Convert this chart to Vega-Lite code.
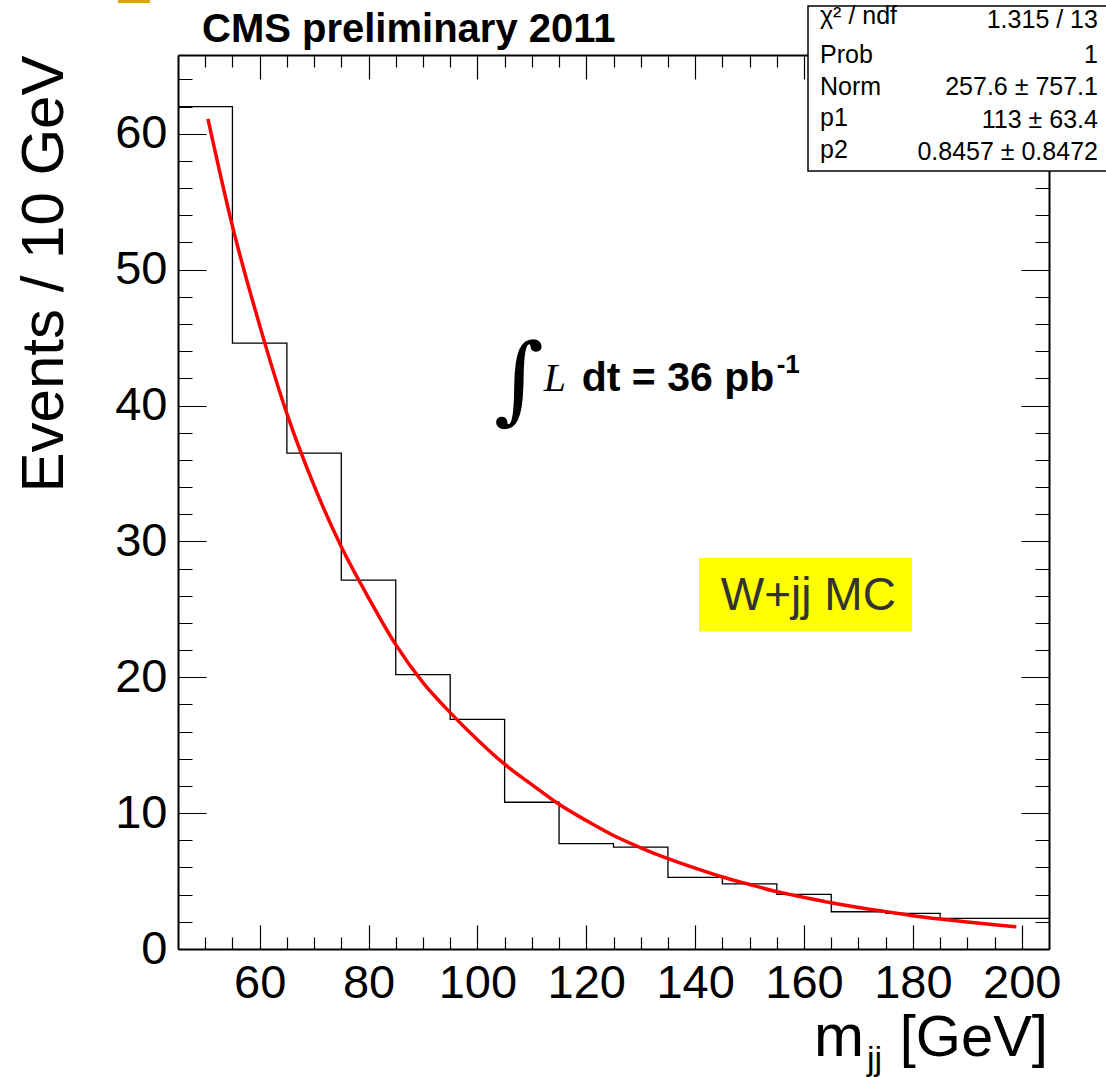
{
  "$schema": "https://vega.github.io/schema/vega-lite/v6.json",
  "width": 871,
  "height": 894,
  "autosize": {"type": "none"},
  "padding": {"left": 178, "top": 55, "right": 57, "bottom": 128},
  "background": "white",
  "data": {"values": [{"a": 1}]},
  "config": {
    "view": {"stroke": null},
    "font": "Liberation Sans",
    "axis": {
      "labelFont": "Liberation Sans",
      "labelFontSize": 47,
      "labelColor": "black",
      "domainColor": "black",
      "domainWidth": 2,
      "gridColor": "black",
      "gridOpacity": 1,
      "gridWidth": 1.2,
      "ticks": false,
      "titleFont": "Liberation Sans",
      "titleColor": "black",
      "labelFlush": false,
      "labelOverlap": false
    }
  },
  "datasets": {
    "hist": [
      {"m": 45, "n": 62.0}, {"m": 55, "n": 44.6}, {"m": 65, "n": 36.5}, {"m": 75, "n": 27.15},
      {"m": 85, "n": 20.2}, {"m": 95, "n": 16.9}, {"m": 105, "n": 10.8}, {"m": 115, "n": 7.75},
      {"m": 125, "n": 7.5}, {"m": 135, "n": 5.27}, {"m": 145, "n": 4.8}, {"m": 155, "n": 4.02},
      {"m": 165, "n": 2.74}, {"m": 175, "n": 2.62}, {"m": 185, "n": 2.25}, {"m": 195, "n": 2.25},
      {"m": 205, "n": 2.25}
    ],
    "fit": [
      {"m": 50.5, "f": 61.1}, {"m": 55, "f": 53.2}, {"m": 60, "f": 45.9}, {"m": 65, "f": 39.4},
      {"m": 70, "f": 34.1}, {"m": 75, "f": 29.6}, {"m": 80, "f": 25.85}, {"m": 85, "f": 22.4},
      {"m": 90, "f": 19.6}, {"m": 95, "f": 17.4}, {"m": 100, "f": 15.4}, {"m": 105, "f": 13.6},
      {"m": 110, "f": 12.1}, {"m": 115, "f": 10.65}, {"m": 120, "f": 9.45}, {"m": 125, "f": 8.35},
      {"m": 130, "f": 7.45}, {"m": 135, "f": 6.65}, {"m": 140, "f": 5.95}, {"m": 145, "f": 5.3},
      {"m": 150, "f": 4.75}, {"m": 155, "f": 4.22}, {"m": 160, "f": 3.8}, {"m": 165, "f": 3.4},
      {"m": 170, "f": 3.05}, {"m": 175, "f": 2.75}, {"m": 180, "f": 2.45}, {"m": 185, "f": 2.2},
      {"m": 190, "f": 1.98}, {"m": 195, "f": 1.78}, {"m": 199, "f": 1.64}
    ]
  },
  "resolve": {"axis": {"x": "independent", "y": "independent"}},
  "layer": [
    {
      "data": {"name": "hist"},
      "mark": {"type": "line", "interpolate": "step-after", "color": "black", "strokeWidth": 1.3},
      "encoding": {
        "x": {
          "field": "m", "type": "quantitative",
          "scale": {"domain": [45, 205], "nice": false, "zero": false},
          "axis": {
            "orient": "bottom", "title": null,
            "values": [60, 80, 100, 120, 140, 160, 180, 200],
            "grid": true, "gridDash": [24, 846],
            "labelPadding": 11
          }
        },
        "y": {
          "field": "n", "type": "quantitative",
          "scale": {"domain": [0, 65.8], "nice": false, "zero": false},
          "axis": {
            "orient": "left",
            "title": "Events / 10 GeV",
            "titleFontSize": 60, "titleFontWeight": "normal",
            "titleAnchor": "end", "titleBaseline": "alphabetic", "titlePadding": 52,
            "values": [0, 10, 20, 30, 40, 50, 60],
            "grid": true, "gridDash": [28, 815],
            "labelPadding": 11
          }
        }
      }
    },
    {
      "data": {"name": "fit"},
      "mark": {"type": "line", "interpolate": "monotone", "color": "#ff0000", "strokeWidth": 3.5},
      "encoding": {
        "x": {
          "field": "m", "type": "quantitative",
          "scale": {"domain": [45, 205], "nice": false, "zero": false},
          "axis": {
            "orient": "top", "title": null, "labels": false,
            "values": [50, 55, 65, 70, 75, 85, 90, 95, 105, 110, 115, 125, 130, 135, 145, 150, 155, 165, 170, 175, 185, 190, 195],
            "grid": true, "gridDash": [12, 870]
          }
        },
        "y": {
          "field": "f", "type": "quantitative",
          "scale": {"domain": [0, 65.8], "nice": false, "zero": false},
          "axis": {
            "orient": "right", "title": null, "labels": false,
            "values": [2, 4, 6, 8, 12, 14, 16, 18, 22, 24, 26, 28, 32, 34, 36, 38, 42, 44, 46, 48, 52, 54, 56, 58, 62, 64],
            "grid": true, "gridDash": [14, 843]
          }
        }
      }
    },
    {
      "mark": {"type": "rect", "fill": "white", "stroke": "black", "strokeWidth": 1.5},
      "encoding": {
        "x": {"datum": 160.73, "type": "quantitative", "scale": {"domain": [45, 205], "nice": false, "zero": false}, "axis": null},
        "x2": {"datum": 216.2},
        "y": {"datum": 69.41, "type": "quantitative", "scale": {"domain": [0, 65.8], "nice": false, "zero": false}, "axis": null},
        "y2": {"datum": 57.26}
      }
    },
    {
      "mark": {"type": "text", "align": "left", "baseline": "alphabetic", "fontSize": 25, "font": "Liberation Sans", "color": "black", "text": "χ² / ndf"},
      "encoding": {
        "x": {"datum": 162.93, "type": "quantitative", "scale": {"domain": [45, 205], "nice": false, "zero": false}, "axis": null},
        "y": {"datum": 68.08, "type": "quantitative", "scale": {"domain": [0, 65.8], "nice": false, "zero": false}, "axis": null}
      }
    },
    {
      "mark": {"type": "text", "align": "left", "baseline": "alphabetic", "fontSize": 25, "lineHeight": 31.5, "font": "Liberation Sans", "color": "black",
               "text": ["Prob", "Norm", "p1", "p2"]},
      "encoding": {
        "x": {"datum": 162.93, "type": "quantitative", "scale": {"domain": [45, 205], "nice": false, "zero": false}, "axis": null},
        "y": {"datum": 65.21, "type": "quantitative", "scale": {"domain": [0, 65.8], "nice": false, "zero": false}, "axis": null}
      }
    },
    {
      "mark": {"type": "text", "align": "right", "baseline": "alphabetic", "fontSize": 25, "font": "Liberation Sans", "color": "black", "text": "1.315 / 13"},
      "encoding": {
        "x": {"datum": 213.99, "type": "quantitative", "scale": {"domain": [45, 205], "nice": false, "zero": false}, "axis": null},
        "y": {"datum": 67.79, "type": "quantitative", "scale": {"domain": [0, 65.8], "nice": false, "zero": false}, "axis": null}
      }
    },
    {
      "mark": {"type": "text", "align": "right", "baseline": "alphabetic", "fontSize": 25, "lineHeight": 32.3, "font": "Liberation Sans", "color": "black",
               "text": ["1", "257.6 ± 757.1", "113 ± 63.4", "0.8457 ± 0.8472"]},
      "encoding": {
        "x": {"datum": 213.99, "type": "quantitative", "scale": {"domain": [45, 205], "nice": false, "zero": false}, "axis": null},
        "y": {"datum": 65.21, "type": "quantitative", "scale": {"domain": [0, 65.8], "nice": false, "zero": false}, "axis": null}
      }
    },
    {
      "mark": {"type": "text", "align": "left", "baseline": "alphabetic", "fontSize": 40, "fontWeight": "bold", "font": "Liberation Sans", "color": "black", "text": "CMS preliminary 2011"},
      "encoding": {
        "x": {"datum": 49.41, "type": "quantitative", "scale": {"domain": [45, 205], "nice": false, "zero": false}, "axis": null},
        "y": {"datum": 66.76, "type": "quantitative", "scale": {"domain": [0, 65.8], "nice": false, "zero": false}, "axis": null}
      }
    },
    {
      "mark": {"type": "rect", "fill": "#d9a800"},
      "encoding": {
        "x": {"datum": 33.98, "type": "quantitative", "scale": {"domain": [45, 205], "nice": false, "zero": false}, "axis": null},
        "x2": {"datum": 39.86},
        "y": {"datum": 70.0, "type": "quantitative", "scale": {"domain": [0, 65.8], "nice": false, "zero": false}, "axis": null},
        "y2": {"datum": 69.62}
      }
    },
    {
      "mark": {"type": "text", "align": "center", "baseline": "alphabetic", "fontSize": 96, "font": "DejaVu Serif", "color": "black", "text": "∫"},
      "encoding": {
        "x": {"datum": 107.64, "type": "quantitative", "scale": {"domain": [45, 205], "nice": false, "zero": false}, "axis": null},
        "y": {"datum": 39.56, "type": "quantitative", "scale": {"domain": [0, 65.8], "nice": false, "zero": false}, "axis": null}
      }
    },
    {
      "mark": {"type": "text", "align": "left", "baseline": "alphabetic", "fontSize": 40, "fontStyle": "italic", "font": "Liberation Serif", "color": "black", "text": "L"},
      "encoding": {
        "x": {"datum": 112.2, "type": "quantitative", "scale": {"domain": [45, 205], "nice": false, "zero": false}, "axis": null},
        "y": {"datum": 41.09, "type": "quantitative", "scale": {"domain": [0, 65.8], "nice": false, "zero": false}, "axis": null}
      }
    },
    {
      "mark": {"type": "text", "align": "left", "baseline": "alphabetic", "fontSize": 41, "fontWeight": "bold", "font": "Liberation Sans", "color": "black", "text": "dt = 36 pb"},
      "encoding": {
        "x": {"datum": 119.16, "type": "quantitative", "scale": {"domain": [45, 205], "nice": false, "zero": false}, "axis": null},
        "y": {"datum": 41.09, "type": "quantitative", "scale": {"domain": [0, 65.8], "nice": false, "zero": false}, "axis": null}
      }
    },
    {
      "mark": {"type": "text", "align": "left", "baseline": "alphabetic", "fontSize": 26, "fontWeight": "bold", "font": "Liberation Sans", "color": "black", "text": "-1"},
      "encoding": {
        "x": {"datum": 154.97, "type": "quantitative", "scale": {"domain": [45, 205], "nice": false, "zero": false}, "axis": null},
        "y": {"datum": 42.37, "type": "quantitative", "scale": {"domain": [0, 65.8], "nice": false, "zero": false}, "axis": null}
      }
    },
    {
      "mark": {"type": "rect", "fill": "#ffff00"},
      "encoding": {
        "x": {"datum": 140.7, "type": "quantitative", "scale": {"domain": [45, 205], "nice": false, "zero": false}, "axis": null},
        "x2": {"datum": 179.83},
        "y": {"datum": 28.78, "type": "quantitative", "scale": {"domain": [0, 65.8], "nice": false, "zero": false}, "axis": null},
        "y2": {"datum": 23.36}
      }
    },
    {
      "mark": {"type": "text", "align": "center", "baseline": "alphabetic", "fontSize": 46, "font": "Liberation Sans", "color": "#333333", "text": "W+jj MC"},
      "encoding": {
        "x": {"datum": 160.79, "type": "quantitative", "scale": {"domain": [45, 205], "nice": false, "zero": false}, "axis": null},
        "y": {"datum": 24.95, "type": "quantitative", "scale": {"domain": [0, 65.8], "nice": false, "zero": false}, "axis": null}
      }
    },
    {
      "mark": {"type": "text", "align": "right", "baseline": "alphabetic", "fontSize": 58, "font": "Liberation Sans", "color": "black", "text": "[GeV]"},
      "encoding": {
        "x": {"datum": 204.81, "type": "quantitative", "scale": {"domain": [45, 205], "nice": false, "zero": false}, "axis": null},
        "y": {"datum": -7.85, "type": "quantitative", "scale": {"domain": [0, 65.8], "nice": false, "zero": false}, "axis": null}
      }
    },
    {
      "mark": {"type": "text", "align": "right", "baseline": "alphabetic", "fontSize": 60, "font": "Liberation Sans", "color": "black", "text": "m"},
      "encoding": {
        "x": {"datum": 171.01, "type": "quantitative", "scale": {"domain": [45, 205], "nice": false, "zero": false}, "axis": null},
        "y": {"datum": -7.85, "type": "quantitative", "scale": {"domain": [0, 65.8], "nice": false, "zero": false}, "axis": null}
      }
    },
    {
      "mark": {"type": "text", "align": "left", "baseline": "alphabetic", "fontSize": 34, "font": "Liberation Sans", "color": "black", "text": "jj"},
      "encoding": {
        "x": {"datum": 171.56, "type": "quantitative", "scale": {"domain": [45, 205], "nice": false, "zero": false}, "axis": null},
        "y": {"datum": -8.9, "type": "quantitative", "scale": {"domain": [0, 65.8], "nice": false, "zero": false}, "axis": null}
      }
    }
  ]
}
